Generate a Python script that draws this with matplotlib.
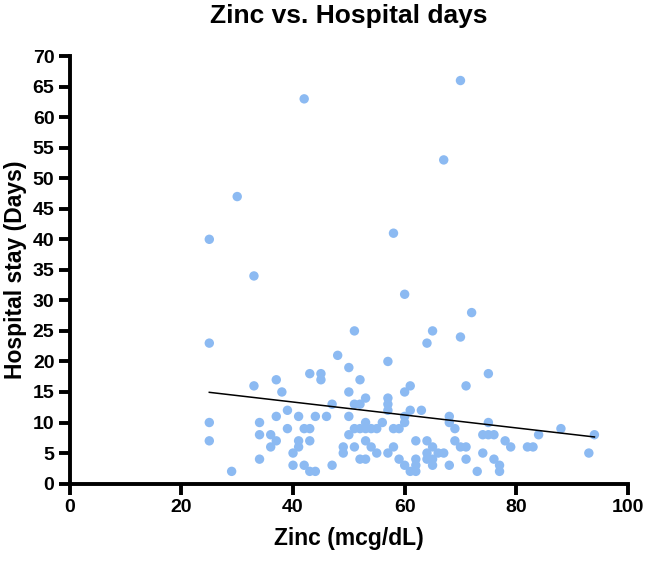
import numpy as np
import matplotlib
matplotlib.use('Agg')
import matplotlib.pyplot as plt

plt.rcParams['font.family'] = ['Liberation Sans', 'DejaVu Sans']
plt.rcParams['font.weight'] = 'bold'

# zinc level (mcg/dL) and hospital stay (days)
zinc = [25, 25, 25, 25, 29, 30, 33, 33, 34, 34, 34, 36, 36, 37, 37, 37, 38,
        39, 39, 40, 40, 41, 41, 41, 42, 42, 42, 43, 43, 43, 43, 44, 44,
        45, 45, 46, 47, 47, 48, 49, 49, 50, 50, 50, 50, 51, 51, 51, 51,
        52, 52, 52, 52, 53, 53, 53, 53, 53, 54, 54, 55, 55, 56, 57, 57,
        57, 57, 57, 58, 58, 58, 59, 59, 60, 60, 60, 60, 60, 61, 61, 61,
        62, 62, 62, 62, 63, 64, 64, 64, 64, 65, 65, 65, 65, 66, 67, 67,
        68, 68, 68, 69, 69, 70, 70, 70, 71, 71, 71, 72, 73, 74, 74, 75,
        75, 75, 76, 76, 77, 77, 78, 79, 82, 83, 84, 88, 93, 94]
stay = [40, 23, 10, 7, 2, 47, 34, 16, 10, 8, 4, 8, 6, 17, 11, 7, 15,
        12, 9, 5, 3, 11, 7, 6, 63, 9, 3, 18, 9, 7, 2, 11, 2,
        18, 17, 11, 13, 3, 21, 6, 5, 19, 15, 11, 8, 25, 13, 9, 6,
        17, 13, 9, 4, 14, 10, 9, 7, 4, 9, 6, 9, 5, 10, 20, 14,
        13, 12, 5, 41, 9, 6, 9, 4, 31, 15, 11, 10, 3, 16, 12, 2,
        7, 4, 3, 2, 12, 23, 7, 5, 4, 25, 6, 4, 3, 5, 53, 5,
        11, 10, 3, 9, 7, 66, 24, 6, 16, 6, 4, 28, 2, 8, 5, 18,
        10, 8, 8, 4, 3, 2, 7, 6, 6, 6, 8, 9, 5, 8]

x_ticks = [0, 20, 40, 60, 80, 100]
y_ticks = list(range(0, 71, 5))

zinc = np.array(zinc)
stay = np.array(stay)
slope, intercept = np.polyfit(zinc, stay, 1)
fit_x = np.array([zinc.min(), zinc.max()])
fit_y = slope * fit_x + intercept

fig = plt.figure(figsize=(6.46, 5.61), dpi=100)
ax = fig.add_axes([0.108, 0.138, 0.864, 0.762])

ax.scatter(zinc, stay, s=46, color='#8cbaf2', edgecolors='none', zorder=3)
ax.plot(fit_x, fit_y, color='black', linewidth=1.1, zorder=4)

ax.set_xlim(0, 100)
ax.set_ylim(0, 70)
ax.set_xticks(x_ticks)
ax.set_yticks(y_ticks)

for side in ['top', 'right']:
    ax.spines[side].set_visible(False)
for side in ['left', 'bottom']:
    ax.spines[side].set_linewidth(2.8)
ax.tick_params(axis='both', direction='out', length=8, width=2.8,
               labelsize=14, pad=3)
for lab in ax.get_xticklabels() + ax.get_yticklabels():
    lab.set_fontweight('bold')

ax.set_xlabel('Zinc (mcg/dL)', fontsize=16.5, fontweight='bold', labelpad=8)
ax.set_ylabel('Hospital stay (Days)', fontsize=16.5, fontweight='bold', labelpad=4)
ax.set_title('Zinc vs. Hospital days', fontsize=19, fontweight='bold', pad=24)

fig.savefig('out.png', dpi=100)
